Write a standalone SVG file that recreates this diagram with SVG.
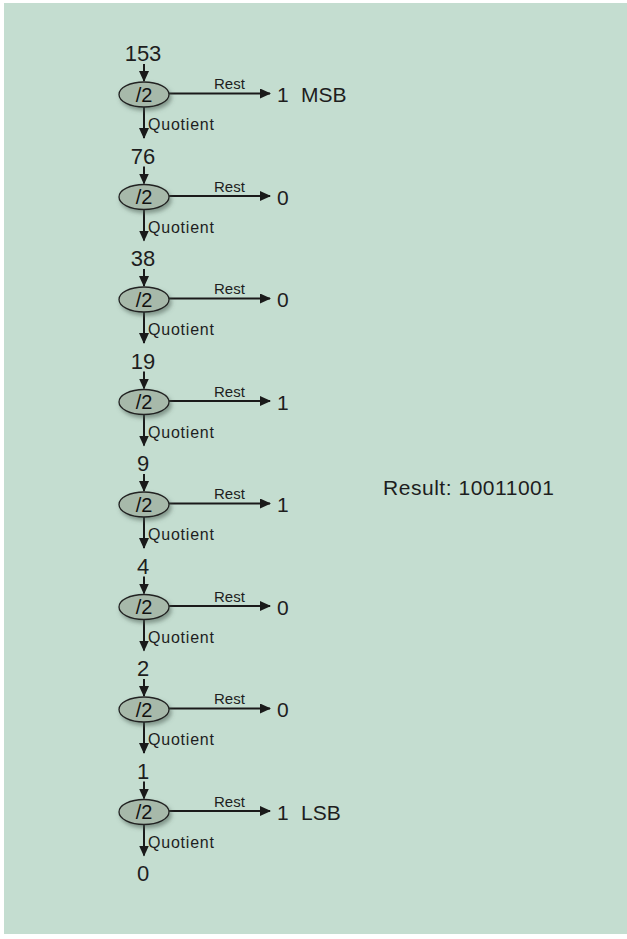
<svg xmlns="http://www.w3.org/2000/svg" width="627" height="939" viewBox="0 0 627 939">
<style>
.t{font-family:"Liberation Sans",Arial,sans-serif;fill:#1e1e1e}
.num{font-size:22px;text-anchor:middle}
.op{font-size:20px;text-anchor:middle;fill:#111}
.rest{font-size:15px}
.quo{font-size:16px}
.val{font-size:21px}
.ell{fill:#a7b9aa;stroke:#222;stroke-width:1.3;filter:url(#sh)}
.ln{stroke:#1a1a1a;stroke-width:2;fill:none;marker-end:url(#ah)}
</style>
<defs>
<marker id="ah" markerUnits="userSpaceOnUse" markerWidth="12" markerHeight="10" refX="10" refY="5" orient="auto">
<path d="M0,0 L11,5 L0,10 Z" fill="#1a1a1a"/>
</marker>
<filter id="sh" x="-30%" y="-40%" width="170%" height="200%">
<feDropShadow dx="2" dy="3" stdDeviation="2" flood-color="#4a5a50" flood-opacity="0.55"/>
</filter>
</defs>
<rect x="0" y="0" width="627" height="939" fill="#ffffff"/>
<rect x="4" y="3" width="623" height="931" fill="#c4ddd0"/>
<g id="connectors">
<line class="ln" x1="144" y1="64" x2="144" y2="81"/>
<line class="ln" x1="144" y1="107" x2="144" y2="138"/>
<line class="ln" x1="169" y1="93.5" x2="270" y2="93.5"/>
<line class="ln" x1="144" y1="166.5" x2="144" y2="183.5"/>
<line class="ln" x1="144" y1="209.5" x2="144" y2="240.5"/>
<line class="ln" x1="169" y1="196" x2="270" y2="196"/>
<line class="ln" x1="144" y1="269" x2="144" y2="286"/>
<line class="ln" x1="144" y1="312" x2="144" y2="343"/>
<line class="ln" x1="169" y1="298.5" x2="270" y2="298.5"/>
<line class="ln" x1="144" y1="371.5" x2="144" y2="388.5"/>
<line class="ln" x1="144" y1="414.5" x2="144" y2="445.5"/>
<line class="ln" x1="169" y1="401" x2="270" y2="401"/>
<line class="ln" x1="144" y1="474" x2="144" y2="491"/>
<line class="ln" x1="144" y1="517" x2="144" y2="548"/>
<line class="ln" x1="169" y1="503.5" x2="270" y2="503.5"/>
<line class="ln" x1="144" y1="576.5" x2="144" y2="593.5"/>
<line class="ln" x1="144" y1="619.5" x2="144" y2="650.5"/>
<line class="ln" x1="169" y1="606" x2="270" y2="606"/>
<line class="ln" x1="144" y1="679" x2="144" y2="696"/>
<line class="ln" x1="144" y1="722" x2="144" y2="753"/>
<line class="ln" x1="169" y1="708.5" x2="270" y2="708.5"/>
<line class="ln" x1="144" y1="781.5" x2="144" y2="798.5"/>
<line class="ln" x1="144" y1="824.5" x2="144" y2="855.5"/>
<line class="ln" x1="169" y1="811" x2="270" y2="811"/>
<g class="t">
<text class="rest" x="214" y="89">Rest</text>
<text class="quo" x="148" y="130" textLength="66">Quotient</text>
<text class="rest" x="214" y="191.5">Rest</text>
<text class="quo" x="148" y="232.5" textLength="66">Quotient</text>
<text class="rest" x="214" y="294">Rest</text>
<text class="quo" x="148" y="335" textLength="66">Quotient</text>
<text class="rest" x="214" y="396.5">Rest</text>
<text class="quo" x="148" y="437.5" textLength="66">Quotient</text>
<text class="rest" x="214" y="499">Rest</text>
<text class="quo" x="148" y="540" textLength="66">Quotient</text>
<text class="rest" x="214" y="601.5">Rest</text>
<text class="quo" x="148" y="642.5" textLength="66">Quotient</text>
<text class="rest" x="214" y="704">Rest</text>
<text class="quo" x="148" y="745" textLength="66">Quotient</text>
<text class="rest" x="214" y="806.5">Rest</text>
<text class="quo" x="148" y="847.5" textLength="66">Quotient</text>
</g>
</g>
<g id="n153" class="t"><text class="num" x="143" y="61">153</text></g>
<g id="n76" class="t"><text class="num" x="143" y="163.5">76</text></g>
<g id="n38" class="t"><text class="num" x="143" y="266">38</text></g>
<g id="n19" class="t"><text class="num" x="143" y="368.5">19</text></g>
<g id="n9" class="t"><text class="num" x="143" y="471">9</text></g>
<g id="n4" class="t"><text class="num" x="143" y="573.5">4</text></g>
<g id="n2" class="t"><text class="num" x="143" y="676">2</text></g>
<g id="n1" class="t"><text class="num" x="143" y="778.5">1</text></g>
<g id="n0" class="t"><text class="num" x="143" y="881">0</text></g>
<g id="div1"><ellipse class="ell" cx="144" cy="94.5" rx="25" ry="12.5"/><text class="t op" x="144" y="101.5">/2</text></g>
<g id="div2"><ellipse class="ell" cx="144" cy="197" rx="25" ry="12.5"/><text class="t op" x="144" y="204">/2</text></g>
<g id="div3"><ellipse class="ell" cx="144" cy="299.5" rx="25" ry="12.5"/><text class="t op" x="144" y="306.5">/2</text></g>
<g id="div4"><ellipse class="ell" cx="144" cy="402" rx="25" ry="12.5"/><text class="t op" x="144" y="409">/2</text></g>
<g id="div5"><ellipse class="ell" cx="144" cy="504.5" rx="25" ry="12.5"/><text class="t op" x="144" y="511.5">/2</text></g>
<g id="div6"><ellipse class="ell" cx="144" cy="607" rx="25" ry="12.5"/><text class="t op" x="144" y="614">/2</text></g>
<g id="div7"><ellipse class="ell" cx="144" cy="709.5" rx="25" ry="12.5"/><text class="t op" x="144" y="716.5">/2</text></g>
<g id="div8"><ellipse class="ell" cx="144" cy="812" rx="25" ry="12.5"/><text class="t op" x="144" y="819">/2</text></g>
<g id="r1" class="t"><text class="val" x="277" y="102">1</text><text class="val" x="301" y="102">MSB</text></g>
<g id="r2" class="t"><text class="val" x="277" y="204.5">0</text></g>
<g id="r3" class="t"><text class="val" x="277" y="307">0</text></g>
<g id="r4" class="t"><text class="val" x="277" y="409.5">1</text></g>
<g id="r5" class="t"><text class="val" x="277" y="512">1</text></g>
<g id="r6" class="t"><text class="val" x="277" y="614.5">0</text></g>
<g id="r7" class="t"><text class="val" x="277" y="717">0</text></g>
<g id="r8" class="t"><text class="val" x="277" y="819.5">1</text><text class="val" x="301" y="819.5">LSB</text></g>
<g id="result" class="t"><text class="val" x="383" y="495" textLength="171">Result: 10011001</text></g>
</svg>
